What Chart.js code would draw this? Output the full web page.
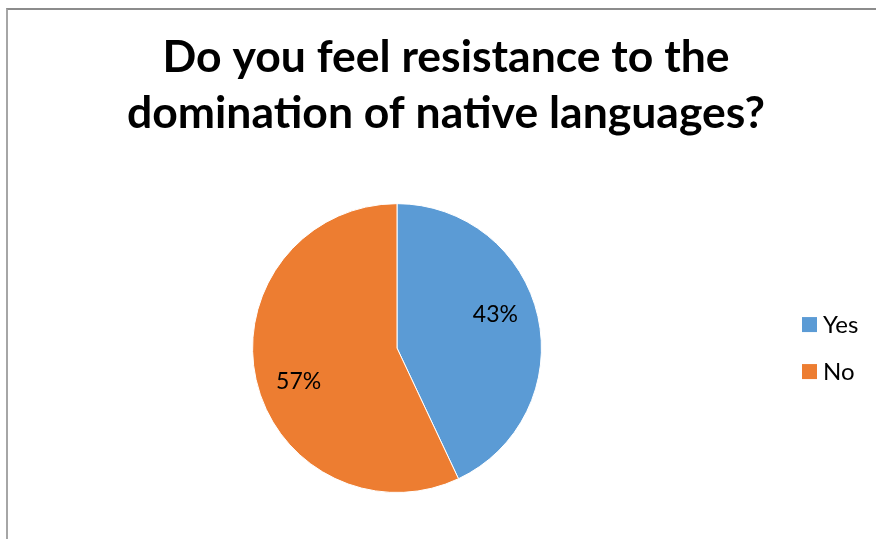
<!DOCTYPE html>
<html lang="en">
<head>
    <meta charset="UTF-8">
    <title>Resistance to native languages</title>
    <script src="https://cdn.jsdelivr.net/npm/chart.js"></script>
    <style>
        body { margin: 0; background: #fff; }
        #frame { position: absolute; left: 6px; top: 8px; width: 900px; height: 600px; border-top: 2px solid #8c8c8c; border-left: 2px solid #a6a6a6; }
        #wrap { position: absolute; left: 0; top: 0; width: 876px; height: 539px; }
    </style>
</head>
<body>
<div id="frame"></div>
<div id="wrap"><canvas id="pieChart"></canvas></div>

<script>
    const categories = ['Yes', 'No'];
    const shares = [43, 57];
    const sliceColors = ['#5B9BD5', '#ED7D31'];
    const titleLines = ['Do you feel resistance to the', 'domination of native languages?'];

    // percentage labels inside the slices
    const sliceLabels = {
        id: 'sliceLabels',
        afterDatasetsDraw(chart) {
            const ctx = chart.ctx;
            const meta = chart.getDatasetMeta(0);
            const total = shares.reduce((a, b) => a + b, 0);
            ctx.save();
            ctx.font = '23px Lato';
            ctx.fillStyle = '#000';
            ctx.textAlign = 'center';
            ctx.textBaseline = 'middle';
            meta.data.forEach((arc, i) => {
                const p = arc.getProps(['x', 'y', 'startAngle', 'endAngle', 'outerRadius'], true);
                const mid = (p.startAngle + p.endAngle) / 2 - 0.11;
                const r = p.outerRadius * 0.72;
                ctx.fillText(Math.round(shares[i] / total * 100) + '%', p.x + Math.cos(mid) * r, p.y + Math.sin(mid) * r);
            });
            ctx.restore();
        }
    };

    // legend as its own layout box on the right, so the title stays centred on the whole canvas
    function makeLegendBox(chart) {
        return {
            position: 'right', weight: 10, fullSize: false, options: {},
            left: 0, top: 0, right: 0, bottom: 0, width: 0, height: 0,
            isHorizontal() { return false; },
            getPadding() { return { left: 0, right: 0, top: 0, bottom: 0 }; },
            update(maxWidth, maxHeight) {
                this.width = 98;
                this.height = maxHeight;
            },
            draw() {
                const ctx = chart.ctx;
                const cy = (this.top + this.bottom) / 2;
                const gap = 47;
                ctx.save();
                ctx.font = '24px Lato';
                ctx.textBaseline = 'middle';
                categories.forEach((name, i) => {
                    const y = cy + (i - (categories.length - 1) / 2) * gap;
                    ctx.fillStyle = sliceColors[i];
                    ctx.fillRect(this.left + 24, y - 7.5, 15, 15);
                    ctx.fillStyle = '#000';
                    ctx.fillText(name, this.left + 45, y + 1);
                });
                ctx.restore();
            }
        };
    }

    const sideLegend = {
        id: 'sideLegend',
        beforeInit(chart) {
            Chart.layouts.addBox(chart, makeLegendBox(chart));
        }
    };

    new Chart(document.getElementById('pieChart'), {
        type: 'pie',
        data: {
            labels: categories,
            datasets: [{
                data: shares,
                backgroundColor: sliceColors,
                borderColor: '#fff',
                borderWidth: 1
            }]
        },
        options: {
            responsive: true,
            maintainAspectRatio: false,
            animation: false,
            layout: { padding: { left: 16, right: 0, top: 0, bottom: 46 } },
            plugins: {
                title: {
                    display: true,
                    text: titleLines,
                    color: '#000',
                    font: { family: 'Lato', size: 44.5, weight: 'bold', lineHeight: 1.26 },
                    padding: { top: 30, bottom: 61 }
                },
                legend: { display: false },
                tooltip: { enabled: false }
            }
        },
        plugins: [sideLegend, sliceLabels]
    });
</script>
</body>
</html>
